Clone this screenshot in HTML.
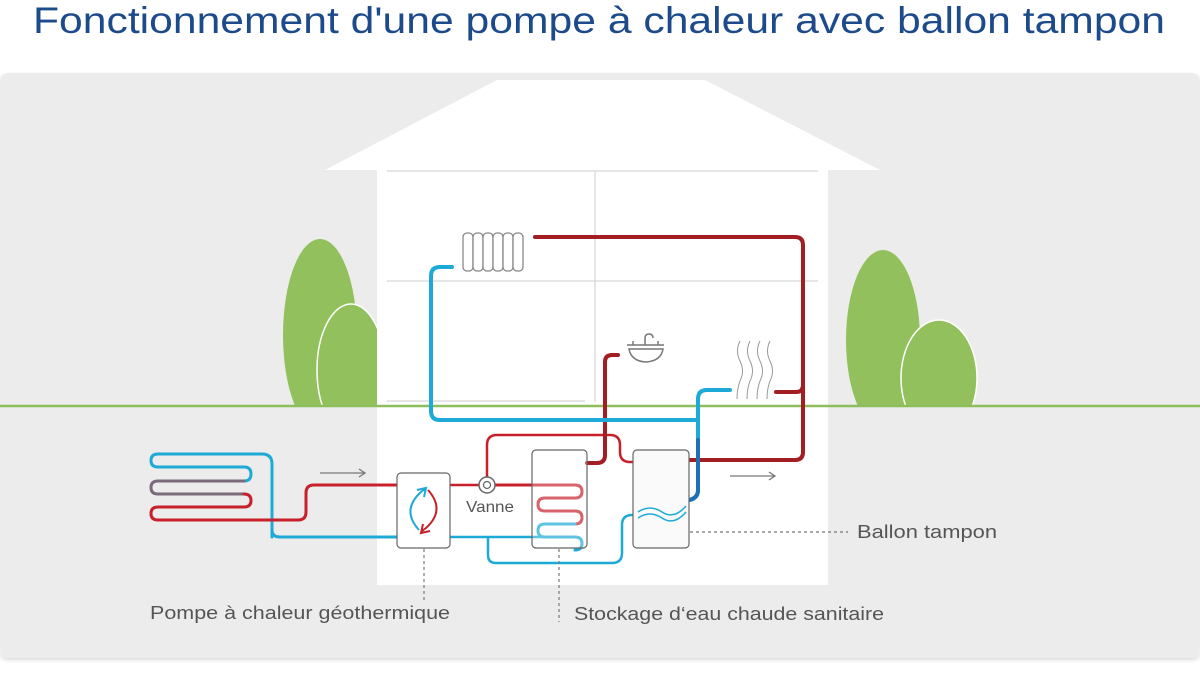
<!DOCTYPE html>
<html><head><meta charset="utf-8"><style>
body{margin:0;width:1200px;height:675px;background:#fff;overflow:hidden;font-family:"Liberation Sans",sans-serif}
</style></head><body>
<svg width="1200" height="675" viewBox="0 0 1200 675" xmlns="http://www.w3.org/2000/svg" font-family="Liberation Sans, sans-serif">
<defs><filter id="sh" x="-5%" y="-5%" width="110%" height="110%"><feDropShadow dx="0" dy="2" stdDeviation="2" flood-color="#000" flood-opacity="0.15"/></filter>
<clipPath id="gr"><rect x="0" y="0" width="1200" height="406"/></clipPath></defs>
<text x="33" y="33" font-size="37" fill="#1c4a8a" textLength="1132" lengthAdjust="spacingAndGlyphs">Fonctionnement d'une pompe à chaleur avec ballon tampon</text>
<rect x="0" y="73" width="1200" height="585" rx="8" fill="#ececec" filter="url(#sh)"/>
<!-- trees -->
<g clip-path="url(#gr)">
<ellipse cx="320" cy="335" rx="37" ry="96" fill="#92c05c"/>
<ellipse cx="351" cy="370" rx="34" ry="66" fill="#92c05c" stroke="#fff" stroke-width="1.5"/>
<ellipse cx="883" cy="340" rx="37" ry="90" fill="#92c05c"/>
<ellipse cx="939" cy="378" rx="38" ry="58" fill="#92c05c" stroke="#fff" stroke-width="1.5"/>
</g>
<!-- house -->
<polygon points="325,170 497,80 705,80 880,170" fill="#fff"/>
<rect x="377" y="170" width="451" height="415" fill="#fff"/>
<line x1="387" y1="171" x2="818" y2="171" stroke="#ccc" stroke-width="1"/>
<line x1="595" y1="171" x2="595" y2="402" stroke="#ccc" stroke-width="1"/>
<line x1="387" y1="281" x2="818" y2="281" stroke="#ccc" stroke-width="1"/>
<line x1="387" y1="401" x2="585" y2="401" stroke="#ccc" stroke-width="1"/>
<line x1="0" y1="406" x2="1200" y2="406" stroke="#8cbf5a" stroke-width="2.5"/>
<g fill="none" stroke-linecap="round" stroke-linejoin="round">
<!-- ground coil -->
<path d="M272,537 V464 q0,-10 -10,-10 H158 q-7,0 -7,6.5 q0,6.5 7,6.5 H244 q7,0 7,7 q0,7 -7,7" stroke="#1eaad6" stroke-width="3"/>
<path d="M244,481 H158 q-7,0 -7,6.5 q0,6.5 7,6.5 H244" stroke="#7a6a7a" stroke-width="3"/>
<path d="M244,494 q7,0 7,6.5 q0,6.5 -7,6.5 H158 q-7,0 -7,6.5 q0,6.5 7,6.5 H298 q8,0 8,-8 V493 q0,-8 8,-8 H397" stroke="#c8202a" stroke-width="3"/>
<path d="M272,530 q0,7 8,7 H397" stroke="#1eaad6" stroke-width="3"/>
<!-- from heat pump to tank -->
<path d="M450,485 H479" stroke="#c8202a" stroke-width="2.5"/>
<path d="M495,485 H575 q7,0 7,6.5 q0,6.5 -7,6.5 H545 q-7,0 -7,6.5 q0,6.5 7,6.5 H575 q7,0 7,6.5 q0,6.5 -7,6.5" stroke="#c8202a" stroke-width="3"/>
<path d="M575,524 H545 q-7,0 -7,6.5 q0,6.5 7,6.5 H575 q7,0 7,6.5 q0,6.5 -7,6.5" stroke="#1eaad6" stroke-width="3"/>
<path d="M450,537 H575" stroke="#1eaad6" stroke-width="2.5"/>
<path d="M487,477 V445 q0,-10 10,-10 H610 q10,0 10,10 V452 q0,10 10,10 H633" stroke="#c8202a" stroke-width="2.5"/>
<path d="M488,537 V555 q0,8 8,8 H612 q10,0 10,-10 V525 q0,-10 10,-10 H634" stroke="#1eaad6" stroke-width="2.5"/>
<!-- sink -->
<path d="M587,463 H597 q8,0 8,-8 V362 q0,-7 7,-7 H618" stroke="#a21e22" stroke-width="4"/>
<!-- radiator loop -->
<path d="M535,237 H795 q8,0 8,8 V452 q0,8 -8,8 H690" stroke="#a21e22" stroke-width="4"/>
<path d="M803,385 q0,7 -7,7 H776" stroke="#a21e22" stroke-width="4"/>
<path d="M452,267 H440 q-9,0 -9,9 V411 q0,9 9,9 H697" stroke="#1eaad6" stroke-width="4"/>
<path d="M730,390 H707 q-9,0 -9,9 V490 q0,8 -8,10" stroke="#1eaad6" stroke-width="4"/>
<path d="M698,440 V490 q0,8 -9,10" stroke="#1e6fb4" stroke-width="4"/>
</g>
<!-- boxes -->
<rect x="397" y="473" width="53" height="75" rx="4" fill="#fff" stroke="#666" stroke-width="1.2"/>
<rect x="532" y="450" width="55" height="98" rx="4" fill="#fff" stroke="#666" stroke-width="1.2" fill-opacity="0.3"/>
<rect x="633" y="450" width="56" height="98" rx="4" fill="#fafafa" stroke="#666" stroke-width="1.2"/>
<!-- cycle arrows -->
<path d="M419,530 q-18,-20 2,-38 l4,-3 M417,490 l9,-2 -2,9" fill="none" stroke="#1eaad6" stroke-width="2"/>
<path d="M428,490 q18,20 -2,38 l-4,3 M430,531 l-9,2 2,-9" fill="none" stroke="#c8202a" stroke-width="2"/>
<!-- waves in ballon -->
<path d="M638,512 q12,-8 24,0 t24,-6 M638,518 q12,-8 24,0 t24,-6" fill="none" stroke="#1eaad6" stroke-width="1.5"/>
<!-- valve -->
<circle cx="487" cy="485" r="8" fill="#fff" stroke="#666" stroke-width="1.5"/>
<circle cx="487" cy="485" r="3.5" fill="none" stroke="#666" stroke-width="1.2"/>
<!-- radiator -->
<g fill="#fff" stroke="#888" stroke-width="1.3">
<rect x="463" y="233" width="10" height="38" rx="4"/><rect x="473" y="233" width="10" height="38" rx="4"/><rect x="483" y="233" width="10" height="38" rx="4"/><rect x="493" y="233" width="10" height="38" rx="4"/><rect x="503" y="233" width="10" height="38" rx="4"/><rect x="513" y="233" width="10" height="38" rx="4"/>
</g>
<!-- sink -->
<g fill="none" stroke="#777" stroke-width="1.5">
<path d="M627,345 H664 M629,349 q2,12 17,13 q15,-1 17,-13 Z"/>
<path d="M645,345 V338 q0,-4 4,-4 q4,0 4,4"/>
<line x1="633" y1="345" x2="633" y2="341"/><line x1="658" y1="345" x2="658" y2="341"/>
</g>
<!-- heat waves -->
<g fill="none" stroke="#999" stroke-width="1">
<path d="M740,341 q-5,10 0,20 t0,20 q-3,8 -3,18"/>
<path d="M750,341 q-5,10 0,20 t0,20 q-3,8 -3,18"/>
<path d="M760,341 q-5,10 0,20 t0,20 q-3,8 -3,18"/>
<path d="M770,341 q-5,10 0,20 t0,20 q-3,8 -3,18"/>
</g>
<!-- arrows -->
<g stroke="#777" stroke-width="1.3" fill="none">
<path d="M320,473 H365 M359,469 l6,4 -6,4"/>
<path d="M730,476 H775 M769,472 l6,4 -6,4"/>
</g>
<!-- dashed leaders -->
<g stroke="#777" stroke-width="1.2" stroke-dasharray="3,3">
<line x1="424" y1="549" x2="424" y2="602"/>
<line x1="559" y1="549" x2="559" y2="622"/>
<line x1="690" y1="532" x2="848" y2="532"/>
</g>
<text x="466" y="512" font-size="16" fill="#555" textLength="48" lengthAdjust="spacingAndGlyphs">Vanne</text>
<text x="857" y="538" font-size="18" fill="#555" textLength="140" lengthAdjust="spacingAndGlyphs">Ballon tampon</text>
<text x="150" y="619" font-size="18" fill="#555" textLength="300" lengthAdjust="spacingAndGlyphs">Pompe à chaleur géothermique</text>
<text x="574" y="620" font-size="18" fill="#555" textLength="310" lengthAdjust="spacingAndGlyphs">Stockage d‘eau chaude sanitaire</text>
</svg>
</body></html>
